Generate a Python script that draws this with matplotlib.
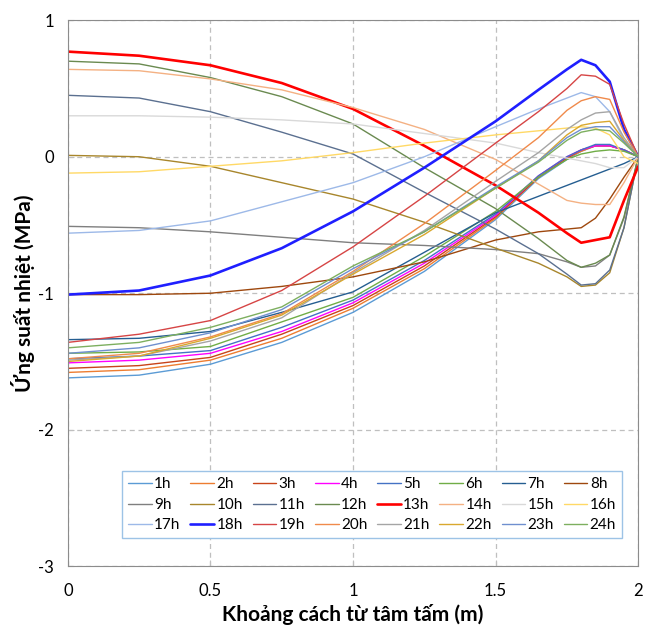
import matplotlib
matplotlib.use("Agg")
import matplotlib.pyplot as plt

plt.rcParams['font.family'] = ['Lato', 'DejaVu Sans']

# Khoảng cách từ tâm tấm (m)
x = [0, 0.25, 0.5, 0.75, 1.0, 1.25, 1.5, 1.65, 1.75, 1.8, 1.85, 1.9, 1.95, 2.0]

# Ứng suất nhiệt theo từng giờ (MPa)
s1h = [-1.62, -1.60, -1.52, -1.36, -1.14, -0.84, -0.46, -0.16, -0.02, 0.04, 0.08, 0.08, 0.05, 0]
s2h = [-1.58, -1.56, -1.49, -1.33, -1.11, -0.82, -0.45, -0.15, -0.01, 0.04, 0.08, 0.08, 0.05, 0]
s3h = [-1.55, -1.53, -1.47, -1.30, -1.09, -0.80, -0.44, -0.15, -0.01, 0.05, 0.08, 0.08, 0.05, 0]
s4h = [-1.51, -1.49, -1.44, -1.28, -1.07, -0.78, -0.43, -0.14, 0.00, 0.05, 0.08, 0.08, 0.05, 0]
s5h = [-1.48, -1.46, -1.42, -1.25, -1.05, -0.76, -0.42, -0.14, 0.00, 0.05, 0.09, 0.09, 0.05, 0]
s6h = [-1.44, -1.43, -1.39, -1.21, -1.03, -0.73, -0.40, -0.15, -0.02, 0.02, 0.04, 0.05, 0.04, 0]
s7h = [-1.34, -1.33, -1.28, -1.14, -0.99, -0.70, -0.41, -0.29, -0.21, -0.17, -0.13, -0.09, -0.05, 0]
s8h = [-1.01, -1.01, -1.00, -0.95, -0.88, -0.77, -0.61, -0.55, -0.53, -0.52, -0.45, -0.31, -0.15, 0]
s9h = [-0.51, -0.52, -0.55, -0.59, -0.63, -0.65, -0.68, -0.71, -0.77, -0.81, -0.80, -0.72, -0.45, 0]
s10h = [0.01, 0.00, -0.07, -0.19, -0.31, -0.48, -0.67, -0.78, -0.88, -0.95, -0.94, -0.85, -0.52, 0]
s11h = [0.45, 0.43, 0.33, 0.18, 0.02, -0.26, -0.53, -0.71, -0.86, -0.94, -0.93, -0.83, -0.52, 0]
s12h = [0.70, 0.68, 0.58, 0.44, 0.24, -0.08, -0.38, -0.60, -0.76, -0.81, -0.78, -0.72, -0.44, 0]
s13h = [0.77, 0.74, 0.67, 0.54, 0.35, 0.08, -0.21, -0.41, -0.56, -0.63, -0.61, -0.59, -0.32, -0.07]
s14h = [0.64, 0.63, 0.57, 0.49, 0.36, 0.20, -0.02, -0.20, -0.32, -0.34, -0.35, -0.35, -0.19, 0]
s15h = [0.30, 0.30, 0.29, 0.27, 0.24, 0.17, 0.10, 0.03, -0.01, -0.03, -0.05, -0.08, -0.08, 0]
s16h = [-0.12, -0.11, -0.07, -0.03, 0.03, 0.10, 0.16, 0.19, 0.21, 0.22, 0.21, 0.16, 0.00, -0.05]
s17h = [-0.56, -0.54, -0.47, -0.33, -0.19, 0.00, 0.22, 0.35, 0.43, 0.47, 0.44, 0.33, 0.12, 0]
s18h = [-1.01, -0.98, -0.87, -0.67, -0.40, -0.08, 0.26, 0.49, 0.64, 0.71, 0.67, 0.55, 0.20, 0]
s19h = [-1.36, -1.30, -1.20, -0.98, -0.66, -0.29, 0.10, 0.33, 0.50, 0.60, 0.59, 0.53, 0.24, 0]
s20h = [-1.48, -1.44, -1.32, -1.15, -0.84, -0.49, -0.10, 0.14, 0.34, 0.41, 0.44, 0.42, 0.18, 0]
s21h = [-1.49, -1.46, -1.35, -1.18, -0.85, -0.54, -0.18, 0.03, 0.20, 0.27, 0.32, 0.33, 0.14, 0]
s22h = [-1.50, -1.46, -1.33, -1.16, -0.86, -0.57, -0.23, -0.03, 0.16, 0.23, 0.25, 0.26, 0.12, 0]
s23h = [-1.44, -1.40, -1.29, -1.12, -0.82, -0.55, -0.22, -0.03, 0.14, 0.20, 0.22, 0.22, 0.11, 0]
s24h = [-1.40, -1.36, -1.25, -1.10, -0.80, -0.55, -0.23, -0.04, 0.12, 0.18, 0.20, 0.19, 0.10, 0]

series = [s1h, s2h, s3h, s4h, s5h, s6h, s7h, s8h, s9h, s10h, s11h, s12h,
          s13h, s14h, s15h, s16h, s17h, s18h, s19h, s20h, s21h, s22h, s23h, s24h]
labels = [f"{i}h" for i in range(1, 25)]

colors = ['#5B9BD5', '#ED7D31', '#C8441A', '#FF00FF', '#4472C4', '#70AD47',
          '#255E91', '#9E480E', '#7F7F7F', '#A8862C', '#5B7090', '#6A8A50',
          '#FF0000', '#F4B183', '#D9D9D9', '#FFD966', '#9DB9E8', '#1F1FFF',
          '#D64545', '#F08A4B', '#A5A5A5', '#D9A82E', '#6F8FCF', '#7DAF5F']
widths = [1.0] * 24
widths[12] = 1.9   # 13h
widths[17] = 1.9   # 18h

fig = plt.figure(figsize=(6.46, 6.32), dpi=100)
ax = fig.add_axes([0.105, 0.104, 0.883, 0.864])

lines = []
for s, lab, c, w in zip(series, labels, colors, widths):
    ln, = ax.plot(x, s, color=c, lw=w, label=lab,
                  solid_joinstyle='round', solid_capstyle='round')
    lines.append(ln)

ax.set_xlim(0, 2)
ax.set_ylim(-3, 1)
ax.set_xticks([0, 0.5, 1, 1.5, 2])
ax.set_xticklabels(['0', '0.5', '1', '1.5', '2'])
ax.set_yticks([-3, -2, -1, 0, 1])
ax.set_yticklabels(['-3', '-2', '-1', '0', '1'])
ax.tick_params(direction='in', length=4, color='#BFBFBF', labelsize=12)
ax.tick_params(axis='x', pad=12)
ax.tick_params(axis='y', pad=10)
ax.grid(True, color='#BFBFBF', linestyle=(0, (4, 3)), lw=0.9)
for sp in ax.spines.values():
    sp.set_color('#8C8C8C')

ax.set_xlabel('Khoảng cách từ tâm tấm (m)', fontsize=15, fontweight='bold', labelpad=4)
ax.set_ylabel('Ứng suất nhiệt (MPa)', fontsize=15, fontweight='bold', labelpad=2)

# legend 8 cột, xếp theo hàng
nrow, ncol = 3, 8
order = [r * ncol + c for c in range(ncol) for r in range(nrow)]
leg = ax.legend([lines[i] for i in order], [labels[i] for i in order],
                ncol=ncol, loc='lower left', mode='expand', borderaxespad=0,
                bbox_to_anchor=(0.095, 0.051, 0.877, 0.119),
                fontsize=11, handlelength=1.55, handletextpad=0.15,
                columnspacing=0.3, labelspacing=0.42, borderpad=0.4,
                fancybox=False, framealpha=1, edgecolor='#9DC3E6')
leg.get_frame().set_linewidth(1.0)

fig.savefig('out.png', dpi=100)
